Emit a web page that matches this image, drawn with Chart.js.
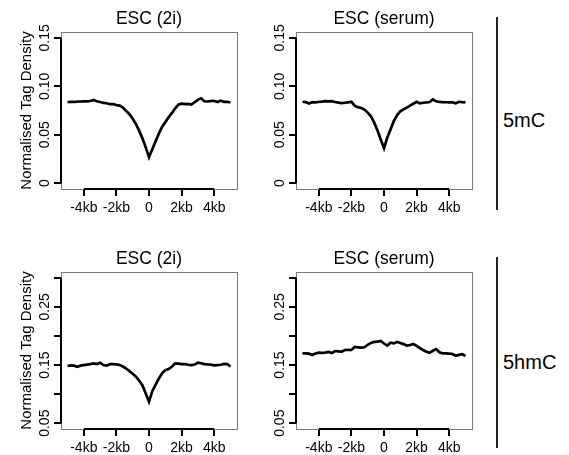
<!DOCTYPE html>
<html>
<head>
<meta charset="utf-8">
<script src="https://cdn.jsdelivr.net/npm/chart.js@4.4.1/dist/chart.umd.min.js"></script>
<style>
  html, body { margin: 0; padding: 0; background: #fff; }
  #wrap { position: relative; width: 569px; height: 455px; overflow: hidden; font-family: "Liberation Sans", Arial, sans-serif; }
  .panel { position: absolute; width: 262px; height: 225px; }
  .rule { position: absolute; left: 496px; width: 1.5px; background: #222; }
  .row-label { position: absolute; left: 503px; font-size: 20px; line-height: 20px; color: #000; }
</style>
</head>
<body>
<div id="wrap">
  <div class="panel" style="left:0;top:0"><canvas id="p1" width="262" height="225"></canvas></div>
  <div class="panel" style="left:235px;top:0"><canvas id="p2" width="262" height="225"></canvas></div>
  <div class="panel" style="left:0;top:240px"><canvas id="p3" width="262" height="225"></canvas></div>
  <div class="panel" style="left:235px;top:240px"><canvas id="p4" width="262" height="225"></canvas></div>
  <div class="rule" style="top:17px;height:193px"></div>
  <div class="rule" style="top:257px;height:191px"></div>
  <div class="row-label" id="row1" style="top:110px"></div>
  <div class="row-label" id="row2" style="top:352px"></div>
</div>
<script>
// distance from the site centre, in kb
const positionsKb = [
  -5.0, -4.8, -4.6, -4.4, -4.2, -4.0, -3.8, -3.6, -3.4, -3.2,
  -3.0, -2.8, -2.6, -2.4, -2.2, -2.0, -1.8, -1.6, -1.4, -1.2,
  -1.0, -0.8, -0.6, -0.4, -0.2, 0.0, 0.2, 0.4, 0.6, 0.8,
  1.0, 1.2, 1.4, 1.6, 1.8, 2.0, 2.2, 2.4, 2.6, 2.8,
  3.0, 3.2, 3.4, 3.6, 3.8, 4.0, 4.2, 4.4, 4.6, 4.8, 5.0
];

const esc2i5mC = [
  0.0836, 0.0840, 0.0838, 0.0842, 0.0843, 0.0845, 0.0844, 0.0848, 0.0858, 0.0845,
  0.0838, 0.0828, 0.0825, 0.0815, 0.0817, 0.0806, 0.0800, 0.0780, 0.0745, 0.0712,
  0.0665, 0.0610, 0.0540, 0.0460, 0.0370, 0.0268, 0.0350, 0.0430, 0.0510, 0.0580,
  0.0630, 0.0680, 0.0722, 0.0770, 0.0810, 0.0820, 0.0815, 0.0818, 0.0812, 0.0835,
  0.0860, 0.0875, 0.0845, 0.0843, 0.0848, 0.0850, 0.0838, 0.0852, 0.0838, 0.0840, 0.0832
];

const escSerum5mC = [
  0.0840, 0.0836, 0.0822, 0.0836, 0.0833, 0.0840, 0.0842, 0.0847, 0.0845, 0.0846,
  0.0838, 0.0832, 0.0827, 0.0830, 0.0833, 0.0840, 0.0800, 0.0785, 0.0775, 0.0760,
  0.0728, 0.0690, 0.0625, 0.0545, 0.0450, 0.0360, 0.0470, 0.0555, 0.0640, 0.0700,
  0.0742, 0.0762, 0.0780, 0.0800, 0.0820, 0.0840, 0.0823, 0.0830, 0.0833, 0.0838,
  0.0865, 0.0845, 0.0838, 0.0836, 0.0835, 0.0833, 0.0833, 0.0825, 0.0840, 0.0836, 0.0833
];

const esc2i5hmC = [
  0.1483, 0.1495, 0.1490, 0.1471, 0.1490, 0.1500, 0.1506, 0.1515, 0.1529, 0.1517,
  0.1540, 0.1500, 0.1490, 0.1515, 0.1517, 0.1510, 0.1500, 0.1475, 0.1440, 0.1395,
  0.1350, 0.1300, 0.1230, 0.1150, 0.1010, 0.0868, 0.1050, 0.1160, 0.1265, 0.1357,
  0.1410, 0.1430, 0.1471, 0.1529, 0.1525, 0.1517, 0.1518, 0.1505, 0.1500, 0.1510,
  0.1540, 0.1530, 0.1517, 0.1510, 0.1506, 0.1495, 0.1500, 0.1505, 0.1520, 0.1515, 0.1475
];

const escSerum5hmC = [
  0.1701, 0.1700, 0.1695, 0.1672, 0.1700, 0.1713, 0.1710, 0.1713, 0.1724, 0.1705,
  0.1741, 0.1735, 0.1730, 0.1759, 0.1762, 0.1759, 0.1810, 0.1805, 0.1800, 0.1805,
  0.1848, 0.1880, 0.1897, 0.1902, 0.1915, 0.1870, 0.1835, 0.1885, 0.1872, 0.1897,
  0.1880, 0.1860, 0.1833, 0.1845, 0.1862, 0.1830, 0.1790, 0.1759, 0.1730, 0.1710,
  0.1745, 0.1775, 0.1720, 0.1701, 0.1700, 0.1695, 0.1690, 0.1660, 0.1675, 0.1688, 0.1655
];

const xTickValues = [-4, -2, 0, 2, 4];
const xTickLabels = ['-4kb', '-2kb', '0', '2kb', '4kb'];
const yTicks5mC = [0, 0.05, 0.10, 0.15];
const yLabels5mC = ['0', '0.05', '0.10', '0.15'];
const yTicks5hmC = [0.05, 0.10, 0.15, 0.20, 0.25, 0.30];
const yLabels5hmC = ['0.05', '', '0.15', '', '0.25', ''];
const panelTitles = ['ESC (2i)', 'ESC (serum)', 'ESC (2i)', 'ESC (serum)'];
const rowLabels = ['5mC', '5hmC'];
const yAxisTitle = 'Normalised Tag Density';

const FONT = '"Liberation Sans", Arial, sans-serif';

document.getElementById('row1').textContent = rowLabels[0];
document.getElementById('row2').textContent = rowLabels[1];

// R-style frame: grey box, black axis line only between first and last tick, title over the plot
const rFrame = {
  id: 'rFrame',
  beforeDatasetsDraw(chart, args, opts) {
    const { ctx, chartArea: a, scales: { x, y } } = chart;
    ctx.save();
    ctx.strokeStyle = '#7a7a7a';
    ctx.lineWidth = 1;
    ctx.strokeRect(a.left + 0.5, a.top + 0.5, a.right - a.left, a.bottom - a.top);
    ctx.strokeStyle = '#000';
    ctx.lineWidth = 2;
    const xt = opts.xTicks;
    const yt = opts.yTicks;
    ctx.beginPath();
    ctx.moveTo(x.getPixelForValue(xt[0]), a.bottom);
    ctx.lineTo(x.getPixelForValue(xt[xt.length - 1]), a.bottom);
    ctx.moveTo(a.left, y.getPixelForValue(yt[0]));
    ctx.lineTo(a.left, y.getPixelForValue(yt[yt.length - 1]));
    ctx.stroke();
    ctx.fillStyle = '#000';
    ctx.font = '17.5px ' + FONT;
    ctx.textAlign = 'center';
    ctx.textBaseline = 'alphabetic';
    ctx.fillText(opts.title, (a.left + a.right) / 2, a.top - 8);
    ctx.restore();
  }
};

function makePanel(id, title, values, yTicks, yLabels, yMin, yMax, showYTitle) {
  const axisGrid = {
    display: true,
    drawOnChartArea: false,
    drawTicks: true,
    tickLength: 7,
    color: '#000',
    lineWidth: 2,
  };

  new Chart(document.getElementById(id), {
    type: 'line',
    data: {
      datasets: [
        {
          data: positionsKb.map((kb, i) => ({ x: kb, y: values[i] })),
          borderColor: '#000',
          borderWidth: 2.7,
          pointRadius: 0,
          tension: 0,
          fill: false,
        },
      ],
    },
    options: {
      responsive: false,
      animation: false,
      layout: { padding: { top: 32, right: 25, left: 0, bottom: 0 } },
      plugins: {
        legend: { display: false },
        tooltip: { enabled: false },
        rFrame: { title, xTicks: xTickValues, yTicks },
      },
      scales: {
        x: {
          type: 'linear',
          min: -5.4,
          max: 5.4,
          afterBuildTicks: (s) => { s.ticks = xTickValues.map((v) => ({ value: v })); },
          afterFit: (s) => { s.height = 36; },
          grid: axisGrid,
          border: { display: false },
          ticks: {
            autoSkip: false,
            maxRotation: 0,
            padding: 4,
            color: '#000',
            font: { family: FONT, size: 14 },
            callback: (v, i) => xTickLabels[i],
          },
        },
        y: {
          type: 'linear',
          min: yMin,
          max: yMax,
          afterBuildTicks: (s) => { s.ticks = yTicks.map((v) => ({ value: v })); },
          afterFit: (s) => { s.width = 61; },
          grid: axisGrid,
          border: { display: false },
          ticks: {
            autoSkip: false,
            minRotation: 90,
            maxRotation: 90,
            crossAlign: 'center',
            padding: -5,
            color: '#000',
            font: { family: FONT, size: 14 },
            callback: (v, i) => yLabels[i],
          },
          title: {
            display: showYTitle,
            text: yAxisTitle,
            color: '#000',
            font: { family: FONT, size: 15 },
            padding: { top: 18, bottom: 0 },
          },
        },
      },
    },
    plugins: [rFrame],
  });
}

makePanel('p1', panelTitles[0], esc2i5mC, yTicks5mC, yLabels5mC, -0.006, 0.156, true);
makePanel('p2', panelTitles[1], escSerum5mC, yTicks5mC, yLabels5mC, -0.006, 0.156, false);
makePanel('p3', panelTitles[2], esc2i5hmC, yTicks5hmC, yLabels5hmC, 0.04, 0.31, true);
makePanel('p4', panelTitles[3], escSerum5hmC, yTicks5hmC, yLabels5hmC, 0.04, 0.31, false);
</script>
</body>
</html>
